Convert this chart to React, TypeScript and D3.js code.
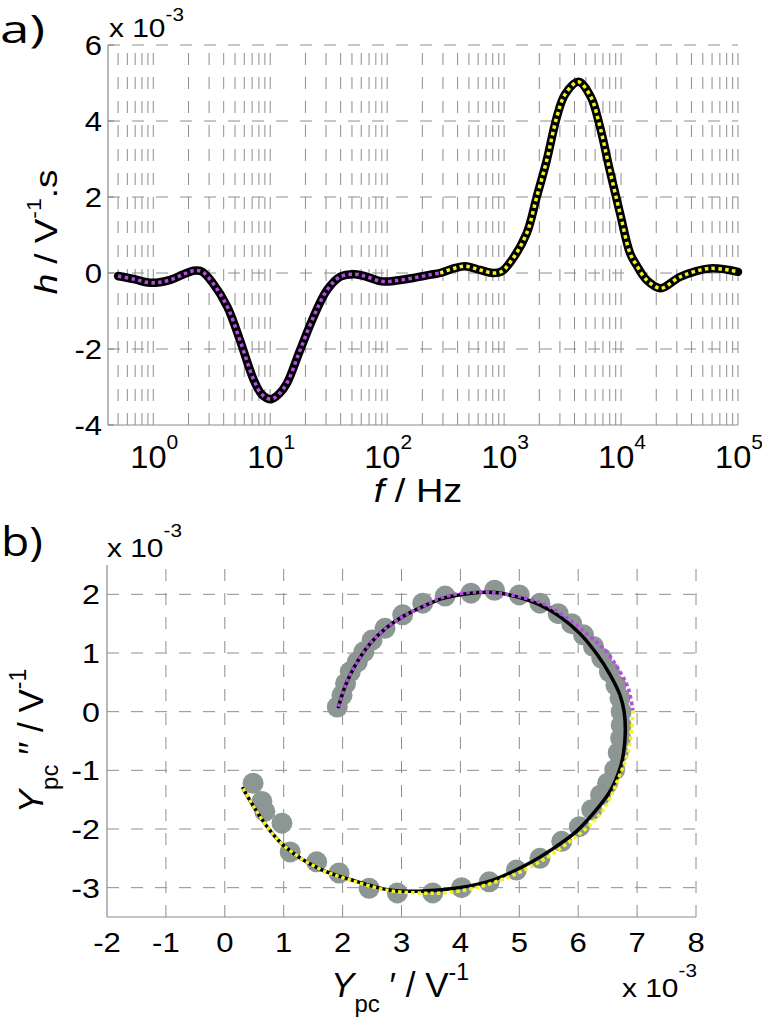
import React from 'react';
import * as d3 from 'd3';

// ---------- Panel a) data: h (x10^-3 V^-1 s) vs f (Hz) ----------
const F_MAG = [0.5, 0.7, 0.9, 1.1, 1.4, 1.8, 2.2, 2.6, 3.2, 4.3, 5.5, 7.2, 8.5, 10.2, 12, 13.9, 18, 23.5, 30.6, 39.6, 53, 67, 90, 120, 167, 230, 284];
const H_MAG = [-0.08, -0.17, -0.25, -0.25, -0.18, -0.04, 0.06, 0.04, -0.25, -0.89, -1.76, -2.8, -3.2, -3.32, -3.17, -2.9, -2.03, -1.15, -0.45, -0.1, -0.03, -0.1, -0.22, -0.2, -0.13, -0.05, 0.0];
const F_YEL = [284, 370, 466, 622, 800, 950, 1164, 1563, 1900, 2317, 2820, 3320, 4310, 5500, 6600, 8000, 9800, 11940, 13600, 16500, 21800, 32000, 57500, 100000];
const H_YEL = [0.0, 0.12, 0.18, 0.08, 0.0, 0.04, 0.34, 1.05, 2.0, 2.97, 4.1, 4.7, 5.03, 4.64, 3.85, 2.71, 1.57, 0.52, 0.2, -0.18, -0.4, -0.1, 0.12, 0.03];
const A_YTICKS = [6, 4, 2, 0, -2, -4];
const A_XDECADES = [0, 1, 2, 3, 4, 5];

// ---------- Panel b) data: Ypc'' vs Ypc' (x10^-3 V^-1) ----------
const CIRC_X = [1.91, 1.99, 2.05, 2.13, 2.25, 2.36, 2.5, 2.72, 3.02, 3.36, 3.74, 4.18, 4.58, 5.0, 5.35, 5.66, 5.89, 6.09, 6.26, 6.4, 6.53, 6.64, 6.71, 6.73, 6.73, 6.72, 6.68, 6.62, 6.5, 6.38, 6.23, 6.02, 5.72, 5.35, 4.95, 4.49, 4.02, 3.53, 2.93, 2.45, 1.94, 1.56, 1.11, 0.97, 0.68, 0.63, 0.48];
const CIRC_Y = [0.08, 0.28, 0.48, 0.68, 0.85, 1.02, 1.22, 1.42, 1.65, 1.85, 1.97, 2.02, 2.07, 1.99, 1.85, 1.67, 1.5, 1.31, 1.11, 0.91, 0.68, 0.45, 0.23, 0.0, -0.23, -0.45, -0.7, -0.99, -1.22, -1.42, -1.67, -1.96, -2.21, -2.5, -2.7, -2.9, -3.0, -3.09, -3.09, -3.01, -2.75, -2.56, -2.39, -1.9, -1.7, -1.53, -1.22];
const FIT_X = [1.93, 2.05, 2.22, 2.45, 2.73, 3.02, 3.36, 3.7, 4.04, 4.3, 4.6, 4.95, 5.35, 5.69, 6.03, 6.31, 6.54, 6.71, 6.78, 6.8, 6.77, 6.71, 6.54, 6.26, 5.97, 5.58, 5.12, 4.55, 3.98, 3.3, 2.79, 2.16, 1.59, 1.02, 0.74, 0.51, 0.31];
const FIT_Y = [0.085, 0.45, 0.8, 1.14, 1.42, 1.62, 1.79, 1.93, 2.0, 2.03, 2.03, 1.96, 1.82, 1.62, 1.33, 0.99, 0.63, 0.28, 0.0, -0.34, -0.7, -0.97, -1.36, -1.73, -2.04, -2.33, -2.61, -2.87, -3.0, -3.06, -3.04, -2.87, -2.67, -2.3, -1.99, -1.65, -1.31];
const MAG_X = [1.93, 2.05, 2.22, 2.45, 2.73, 3.02, 3.36, 3.7, 4.27, 4.84, 5.4, 5.86, 6.2, 6.48, 6.71, 6.85, 6.93];
const MAG_Y = [0.085, 0.45, 0.8, 1.14, 1.42, 1.62, 1.79, 1.95, 2.04, 1.99, 1.84, 1.56, 1.28, 1.02, 0.68, 0.4, 0.02];
const YEL_X = [6.93, 6.91, 6.85, 6.66, 6.48, 6.2, 5.86, 5.4, 4.84, 4.27, 3.7, 3.3, 2.79, 2.16, 1.59, 1.02, 0.74, 0.51, 0.31];
const YEL_Y = [0.02, -0.28, -0.68, -1.19, -1.59, -1.93, -2.21, -2.53, -2.81, -3.0, -3.09, -3.09, -3.05, -2.88, -2.67, -2.3, -1.99, -1.65, -1.31];
const B_XTICKS = [-2, -1, 0, 1, 2, 3, 4, 5, 6, 7, 8];
const B_YTICKS = [2, 1, 0, -1, -2, -3];

const FONT = '"Liberation Sans", Arial, sans-serif';
const PANEL_FONT = '"Open Sans", "DejaVu Sans", sans-serif';
const GRID = '#8e8e8e';
const AXIS = '#8a8a8a';
const MAGENTA = '#b44de6';
const YELLOW = '#f2f224';
const CIRCLE = '#8c9692';
const SX = 1.15;

type TProps = {
  x: number; y: number; size: number; anchor?: string; sx?: number; rot?: number;
  family?: string; len?: number; children: React.ReactNode;
};
function T({ x, y, size, anchor = 'start', sx = SX, rot = 0, family, len, children }: TProps) {
  return (
    <text
      transform={`translate(${x},${y}) rotate(${rot}) scale(${sx},1)`}
      fontSize={size}
      textAnchor={anchor}
      fontFamily={family}
      textLength={len}
      lengthAdjust={len ? 'spacingAndGlyphs' : undefined}
    >
      {children}
    </text>
  );
}

export default function App() {
  // Panel a scales
  const ax = d3.scaleLog().domain([0.41, 1e5]).range([108, 738]);
  const ay = d3.scaleLinear().domain([-4, 6]).range([425, 45]);
  const aLine = d3.line<[number, number]>()
    .x(d => ax(d[0]))
    .y(d => ay(d[1]))
    .curve(d3.curveCatmullRom.alpha(0.5));
  const magPts = F_MAG.map((f, i) => [f, H_MAG[i]] as [number, number]);
  const yelPts = F_YEL.map((f, i) => [f, H_YEL[i]] as [number, number]);
  const allA = magPts.concat(yelPts.slice(1));

  const vGridA: number[] = [];
  for (let k = -1; k <= 4; k++) {
    for (let m = 1; m <= 9; m++) {
      const v = m * Math.pow(10, k);
      if (v >= 0.5 && v <= 1e5) vGridA.push(v);
    }
  }
  vGridA.push(1e5);

  // Panel b scales
  const bx = d3.scaleLinear().domain([-2, 8]).range([107, 696]);
  const by = d3.scaleLinear().domain([-3.5, 2.5]).range([917, 565]);
  const bLine = d3.line<[number, number]>()
    .x(d => bx(d[0]))
    .y(d => by(d[1]))
    .curve(d3.curveCatmullRom.alpha(0.5));
  const fitPts = FIT_X.map((x, i) => [x, FIT_Y[i]] as [number, number]);
  const magB = MAG_X.map((x, i) => [x, MAG_Y[i]] as [number, number]);
  const yelB = YEL_X.map((x, i) => [x, YEL_Y[i]] as [number, number]);

  return (
    <svg width={762} height={1022} style={{ position: 'absolute', left: 0, top: 0, background: '#fff' }} fontFamily={FONT}>
      <rect x={0} y={0} width={762} height={1022} fill="#fff" />

      {/* ================= Panel a ================= */}
      <T x={0} y={43} size={38} sx={1} family={PANEL_FONT} len={45}>a)</T>
      <T x={109} y={37} size={26}>x 10<tspan fontSize={18} dy={-16}>-3</tspan></T>

      {/* grid */}
      {vGridA.map((v, i) => (
        <line key={'va' + i} x1={ax(v)} x2={ax(v)} y1={425} y2={45} stroke={GRID} strokeWidth={1} strokeDasharray="12,12" />
      ))}
      {A_YTICKS.filter(t => t > -4).map(t => (
        <line key={'ha' + t} x1={108} x2={738} y1={ay(t)} y2={ay(t)} stroke={GRID} strokeWidth={1} strokeDasharray="12,12" />
      ))}
      {/* axes */}
      <line x1={108} x2={108} y1={45} y2={425} stroke={AXIS} strokeWidth={1.2} />
      <line x1={108} x2={738} y1={425} y2={425} stroke={AXIS} strokeWidth={1.2} />
      {A_YTICKS.map(t => (
        <line key={'yta' + t} x1={108} x2={114} y1={ay(t)} y2={ay(t)} stroke={AXIS} strokeWidth={1.2} />
      ))}
      {A_YTICKS.map(t => (
        <T key={'yla' + t} x={102} y={ay(t) + 9.5} size={27} anchor="end">{t}</T>
      ))}
      {A_XDECADES.map(k => (
        <T key={'xla' + k} x={ax(Math.pow(10, k)) + 1} y={468} size={31} sx={1.05} anchor="middle">
          10<tspan fontSize={20} dy={-19}>{k}</tspan>
        </T>
      ))}
      <T x={418} y={502} size={33} anchor="middle">
        <tspan fontStyle="italic">f</tspan> / Hz
      </T>
      <T x={57} y={232} size={32} rot={-90} anchor="middle">
        <tspan fontStyle="italic">h</tspan> / V<tspan fontSize={20} dy={-16}>-1</tspan><tspan dy={16}>.s</tspan>
      </T>

      {/* curve */}
      <path d={aLine(allA) || ''} fill="none" stroke="#000" strokeWidth={8.5} strokeLinejoin="round" strokeLinecap="round" />
      <path d={aLine(magPts) || ''} fill="none" stroke={MAGENTA} strokeWidth={3.5} strokeDasharray="3.5,3.3" />
      <path d={aLine(yelPts) || ''} fill="none" stroke={YELLOW} strokeWidth={3.5} strokeDasharray="3.5,3.3" />

      {/* ================= Panel b ================= */}
      <T x={1} y={556} size={40} sx={1} family={PANEL_FONT} len={42}>b)</T>
      <T x={107} y={557} size={26}>x 10<tspan fontSize={18} dy={-20}>-3</tspan></T>

      {B_XTICKS.filter(t => t > -2).map(t => (
        <line key={'vb' + t} x1={bx(t)} x2={bx(t)} y1={917} y2={565} stroke={GRID} strokeWidth={1} strokeDasharray="12,12" />
      ))}
      {B_YTICKS.map(t => (
        <line key={'hb' + t} x1={107} x2={696} y1={by(t)} y2={by(t)} stroke={GRID} strokeWidth={1} strokeDasharray="12,12" />
      ))}
      <line x1={107} x2={107} y1={565} y2={917} stroke={AXIS} strokeWidth={1.2} />
      <line x1={107} x2={696} y1={917} y2={917} stroke={AXIS} strokeWidth={1.2} />
      {B_YTICKS.map(t => (
        <T key={'ylb' + t} x={100} y={by(t) + 10} size={28} anchor="end">{t}</T>
      ))}
      {B_XTICKS.map(t => (
        <T key={'xlb' + t} x={bx(t)} y={952} size={27} anchor="middle">{t}</T>
      ))}
      <T x={400} y={997} size={35} sx={1} anchor="middle">
        <tspan fontStyle="italic">Y</tspan><tspan fontSize={24} dy={15}>pc</tspan><tspan dy={-15}> ′ / V</tspan><tspan fontSize={23} dy={-17}>-1</tspan>
      </T>
      <T x={622} y={997} size={26}>x 10<tspan fontSize={18} dy={-20}>-3</tspan></T>
      <T x={43} y={741} size={35} sx={1} rot={-90} anchor="middle">
        <tspan fontStyle="italic">Y</tspan><tspan fontSize={24} dy={15}>pc</tspan><tspan dy={-15}> ′′ / V</tspan><tspan fontSize={23} dy={-17}>-1</tspan>
      </T>

      {CIRC_X.map((x, i) => (
        <circle key={'c' + i} cx={bx(x)} cy={by(CIRC_Y[i])} r={10.5} fill={CIRCLE} />
      ))}
      <path d={bLine(fitPts) || ''} fill="none" stroke="#000" strokeWidth={3.5} strokeLinejoin="round" strokeLinecap="round" />
      <path d={bLine(magB) || ''} fill="none" stroke={MAGENTA} strokeWidth={3.5} strokeDasharray="3.5,3" />
      <path d={bLine(yelB) || ''} fill="none" stroke={YELLOW} strokeWidth={3.5} strokeDasharray="3.5,3" />
    </svg>
  );
}
